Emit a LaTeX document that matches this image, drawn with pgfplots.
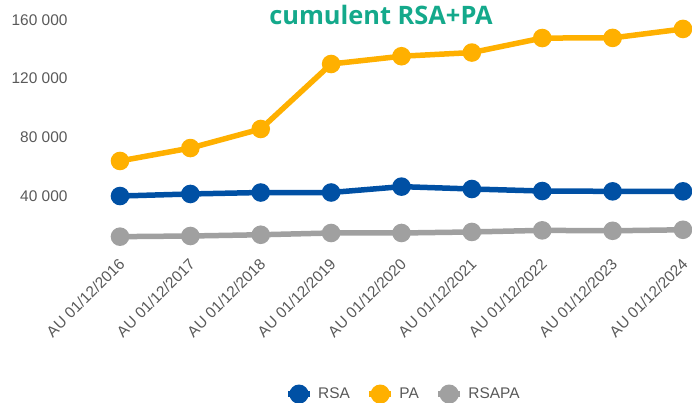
\documentclass[border=0pt]{standalone}
\usepackage{fontspec}
\setmainfont{Liberation Sans}
\newfontfamily\titlefont{Open Sans}
\usepackage{pgfplots}
\pgfplotsset{compat=1.18}
\definecolor{rsablue}{HTML}{0050A4}
\definecolor{paorange}{HTML}{FFB000}
\definecolor{rsagray}{HTML}{A0A0A0}
\definecolor{titleteal}{HTML}{14A98B}
\definecolor{labelgray}{HTML}{595959}
\begin{document}
\begin{tikzpicture}[x=1bp,y=1bp]
\begin{axis}[
    scale only axis,
    width=563bp,
    height=234.7bp,
    xmin=0, xmax=8,
    ymin=0, ymax=160000,
    scaled y ticks=false,
    axis line style={draw=none},
    major tick style={draw=none},
    xtick={0,...,8},
    xticklabels={AU 01/12/2016,AU 01/12/2017,AU 01/12/2018,AU 01/12/2019,AU 01/12/2020,AU 01/12/2021,AU 01/12/2022,AU 01/12/2023,AU 01/12/2024},
    ytick={40000,80000,120000,160000},
    yticklabels={40 000,80 000,120 000,160 000},
    ticklabel style={font=\fontsize{15.5}{18}\selectfont, text=labelgray},
    yticklabel style={xshift=-49bp},
    xticklabel style={rotate=45, anchor=east, xshift=0bp, yshift=-6bp},
    clip=false,
    legend columns=3,
    legend style={draw=none, at={(0.503,-0.594)}, anchor=center,
        font=\fontsize{15.5}{18}\selectfont, text=labelgray,
        /tikz/every odd column/.append style={column sep=3bp},
        /tikz/every even column/.append style={column sep=14bp}},
    legend image code/.code={
        \draw[#1, line width=6.5bp] (0bp,0bp) -- (22bp,0bp);
        \fill[#1] (11bp,0bp) circle (6.8bp);
    },
]
\addplot[rsablue, line width=5.5bp, mark=*, mark size=6.5bp] coordinates {
    (0,40000) (1,41400) (2,42400) (3,42400) (4,46400) (5,44800) (6,43400) (7,43200) (8,43200)
};
\addlegendentry{RSA}
\addplot[paorange, line width=5.5bp, mark=*, mark size=6.5bp] coordinates {
    (0,63900) (1,72700) (2,85700) (3,130000) (4,135300) (5,137800) (6,147700) (7,147800) (8,153900)
};
\addlegendentry{PA}
\addplot[rsagray, line width=5.5bp, mark=*, mark size=6.5bp] coordinates {
    (0,12300) (1,12750) (2,13600) (3,14800) (4,14800) (5,15500) (6,16600) (7,16300) (8,17000)
};
\addlegendentry{RSAPA}
\end{axis}
\node[font=\titlefont\bfseries\fontsize{25.5}{28}\selectfont, text=titleteal] at (261bp,240bp) {cumulent RSA+PA};
\pgfresetboundingbox
\path (-120bp,-148.3bp) rectangle (572bp,254.7bp);
\end{tikzpicture}
\end{document}
